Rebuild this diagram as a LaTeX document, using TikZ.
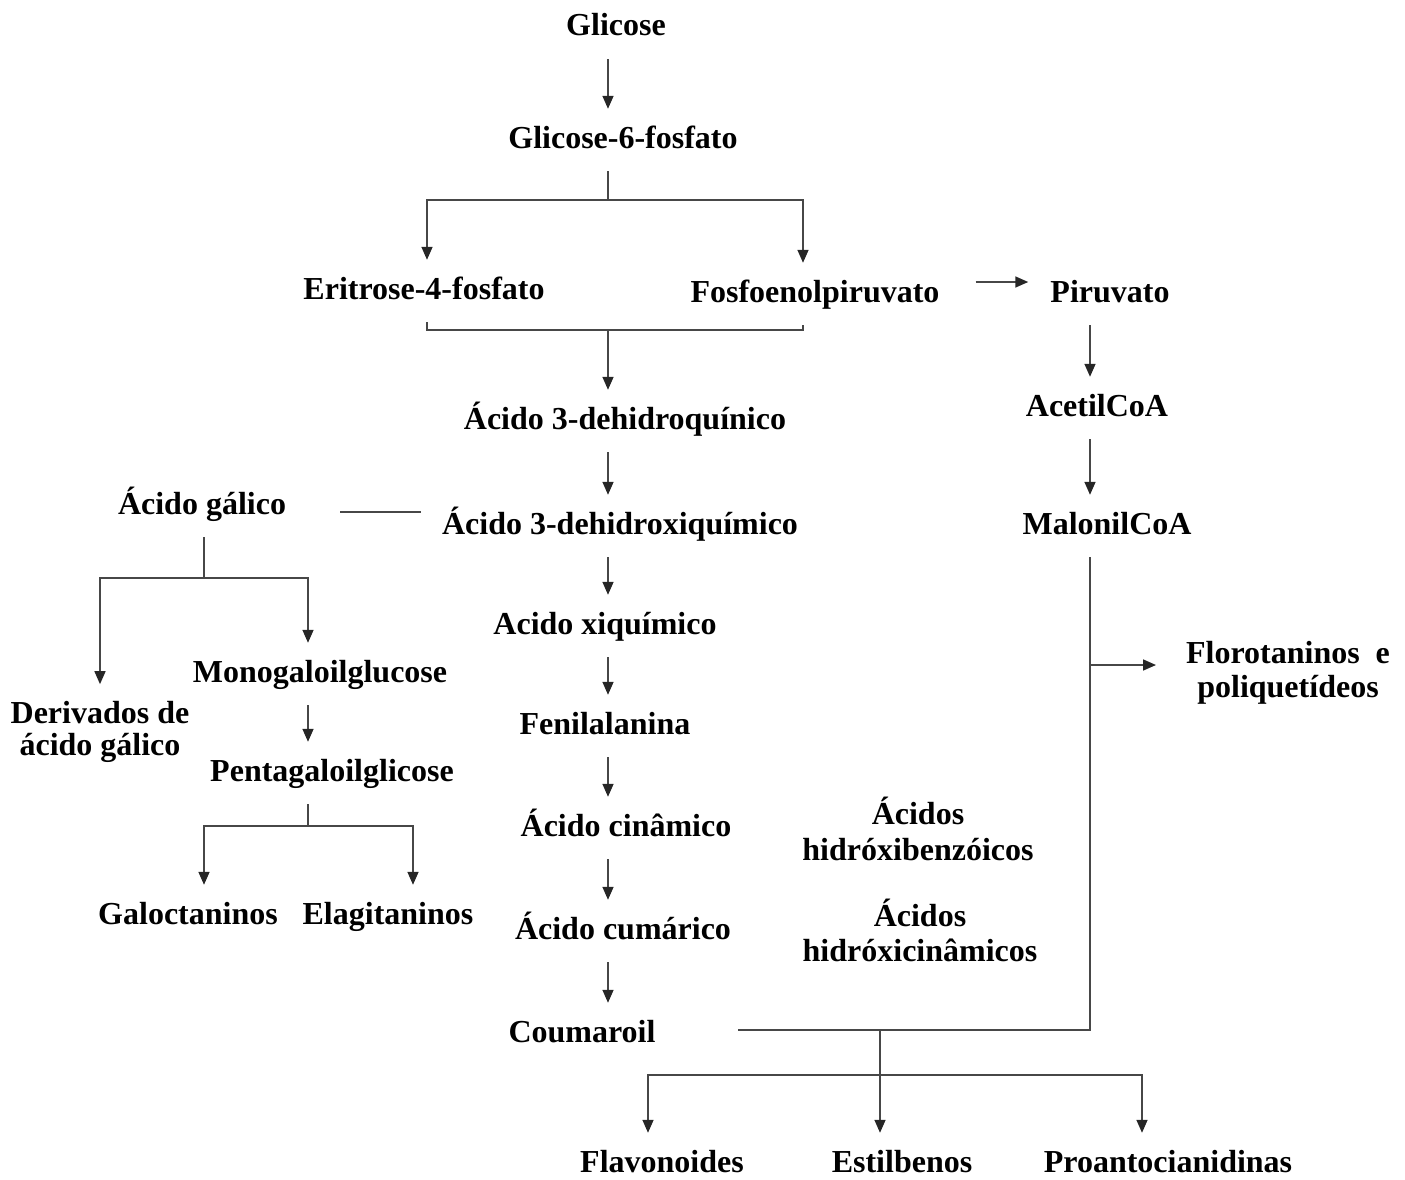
\documentclass[tikz,border=0pt]{standalone}
\usepackage{fontspec}
\setmainfont{Liberation Serif}
\usetikzlibrary{arrows.meta}
\begin{document}
\begin{tikzpicture}[x=1pt,y=-1pt,
  lbl/.style={font=\fontsize{32}{34}\selectfont\bfseries, text height=22pt, text depth=6pt, inner xsep=4pt, inner ysep=17pt, yshift=-3pt},
  lblb/.style={lbl, text depth=0pt},
  lbl2/.style={font=\fontsize{32}{35}\selectfont\bfseries, align=center, inner xsep=4pt, inner ysep=17pt},
  conn/.style={draw=black!72, line width=1.6pt},
  arr/.style={conn, -{Triangle[length=13pt,width=11pt,color=black!85]}}]
\useasboundingbox (0,0) rectangle (1405,1180);
% nodes
\node[lbl] (glic) at (616,25) {Glicose};
\node[lbl] (g6p) at (623,137) {Glicose-6-fosfato};
\node[lbl] (eri) at (424,288) {Eritrose-4-fosfato};
\node[lbl] (fos) at (815,291) {Fosfoenolpiruvato};
\node[lbl] (piru) at (1110,291) {Piruvato};
\node[lbl] (dhq) at (625,418) {Ácido 3-dehidroquínico};
\node[lbl] (dhx) at (620,523) {Ácido 3-dehidroxiquímico};
\node[lbl] (gal) at (202,503) {Ácido gálico};
\node[lbl] (mono) at (320,671) {Monogaloilglucose};
\node[lbl2, font=\fontsize{32}{32}\selectfont\bfseries] (deriv) at (100,732) {Derivados de\\ácido gálico};
\node[lbl] (penta) at (332,770) {Pentagaloilglicose};
\node[lbl] (galo) at (188,913) {Galoctaninos};
\node[lbl] (elag) at (388,913) {Elagitaninos};
\node[lbl] (xiq) at (605,623) {Acido xiquímico};
\node[lbl] (fenil) at (605,723) {Fenilalanina};
\node[lbl] (cin) at (626,825) {Ácido cinâmico};
\node[lbl] (cum) at (623,928) {Ácido cumárico};
\node[lbl] (coum) at (582,1031) {Coumaroil};
\node[lbl] (acet) at (1097,405) {AcetilCoA};
\node[lbl] (malo) at (1107,523) {MalonilCoA};
\node[lbl2, font=\fontsize{32}{34}\selectfont\bfseries] (flor) at (1288,673) {Florotaninos\ \ e\\poliquetídeos};
\node[lbl2, font=\fontsize{32}{36}\selectfont\bfseries] (hb) at (918,829) {Ácidos\\hidróxibenzóicos};
\node[lbl2] (hc) at (920,930) {Ácidos\\hidróxicinâmicos};
\node[lblb] (flav) at (662,1158) {Flavonoides};
\node[lblb] (est) at (902,1158) {Estilbenos};
\node[lblb] (proa) at (1168,1158) {Proantocianidinas};
% helper coordinates
\coordinate (c1) at (608,0);
\coordinate (xl) at (427,0);
\coordinate (xr) at (803,0);
\coordinate (j1) at (608,200);
\coordinate (bm) at (608,330);
\coordinate (ay) at (0,282);
\coordinate (ly) at (0,512);
\coordinate (gx) at (204,0);
\coordinate (jg) at (204,578);
\coordinate (dx) at (100,0);
\coordinate (mx) at (308,0);
\coordinate (jp) at (308,826);
\coordinate (ex) at (413,0);
\coordinate (rx) at (1090,0);
\coordinate (jf) at (1090,665);
\coordinate (ft) at (1156,665);
\coordinate (cy) at (0,1030);
\coordinate (jc) at (880,1030);
\coordinate (jb) at (880,1075);
\coordinate (fx) at (648,0);
\coordinate (px) at (1142,0);
% connectors
\draw[arr] (glic.south -| c1) -- (g6p.north -| c1);
\draw[conn] (g6p.south -| c1) -- (j1);
\draw[arr] (j1) -| (eri.north -| xl);
\draw[arr] (j1) -| (fos.north -| xr);
\draw[conn] (eri.south -| xl) |- (bm) -| (fos.south -| xr);
\draw[arr] (bm) -- (dhq.north -| c1);
\draw[arr, shorten <=32pt, shorten >=18pt] (fos.east |- ay) -- (piru.west |- ay);
\draw[arr] (dhq.south -| c1) -- (dhx.north -| c1);
\draw[conn, shorten <=50pt, shorten >=17pt] (gal.east |- ly) -- (dhx.west |- ly);
\draw[conn] (gal.south -| gx) -- (jg);
\draw[arr] (jg) -| (deriv.north -| dx);
\draw[arr] (jg) -| (mono.north -| mx);
\draw[arr] (mono.south -| mx) -- (penta.north -| mx);
\draw[conn] (penta.south -| mx) -- (jp);
\draw[arr] (jp) -| (galo.north -| gx);
\draw[arr] (jp) -| (elag.north -| ex);
\draw[arr] (dhx.south -| c1) -- (xiq.north -| c1);
\draw[arr] (xiq.south -| c1) -- (fenil.north -| c1);
\draw[arr] (fenil.south -| c1) -- (cin.north -| c1);
\draw[arr] (cin.south -| c1) -- (cum.north -| c1);
\draw[arr] (cum.south -| c1) -- (coum.north -| c1);
\draw[arr] (piru.south -| rx) -- (acet.north -| rx);
\draw[arr] (acet.south -| rx) -- (malo.north -| rx);
\draw[conn, shorten >=78pt] (malo.south -| rx) |- (coum.east |- cy);
\draw[arr] (jf) -- (ft);
\draw[conn] (jc) -- (jb);
\draw[arr] (jb) -| (flav.north -| fx);
\draw[arr] (jb) -| (proa.north -| px);
\draw[arr] (jb) -- (est.north -| jb);
\end{tikzpicture}
\end{document}
